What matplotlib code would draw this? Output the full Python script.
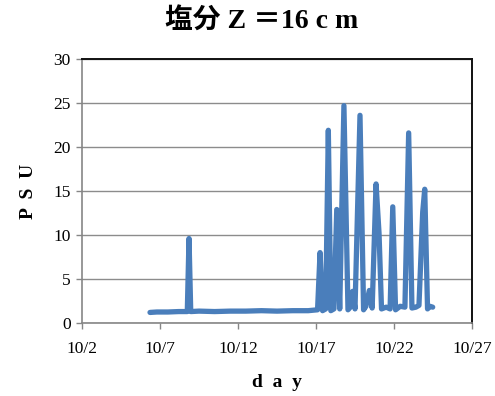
import matplotlib
matplotlib.use("Agg")
import matplotlib.pyplot as plt

# Salinity record at 16 cm depth (day of October, PSU)
day = [6.36, 6.8, 7.5, 8.2, 8.75, 8.86, 8.97, 9.5, 10.5, 11.5, 12.5, 13.5, 14.5,
       15.5, 16.5, 17.1, 17.26, 17.42, 17.62, 17.79, 17.95, 18.15, 18.33, 18.52,
       18.79, 19.05, 19.2, 19.35, 19.5, 19.82, 20.05, 20.2, 20.42, 20.6, 20.85,
       21.04, 21.2, 21.5, 21.75, 21.92, 22.1, 22.4, 22.7, 22.94, 23.15, 23.4,
       23.6, 23.84, 23.97, 24.15, 24.3, 24.48]
psu = [1.2, 1.25, 1.25, 1.3, 1.3, 9.6, 1.3, 1.35, 1.3, 1.35, 1.35, 1.4, 1.35,
       1.4, 1.4, 1.5, 8.0, 1.4, 1.6, 21.9, 1.4, 1.6, 12.9, 1.6,
       24.7, 1.5, 1.8, 3.6, 1.6, 23.6, 1.5, 1.9, 3.7, 1.7, 15.8,
       10.2, 1.6, 1.8, 1.6, 13.2, 1.5, 1.9, 1.8, 21.6, 1.7, 1.8,
       2.0, 12.6, 15.2, 1.6, 1.9, 1.8]

x_ticks = [2, 7, 12, 17, 22, 27]
x_tick_labels = ["10/2", "10/7", "10/12", "10/17", "10/22", "10/27"]
y_ticks = [0, 5, 10, 15, 20, 25, 30]

serif = ["Liberation Serif", "DejaVu Serif"]
plt.rcParams["font.family"] = serif

fig = plt.figure(figsize=(4.95, 3.96), dpi=100)
ax = fig.add_axes([82 / 495, 1 - 323 / 396, 390 / 495, 264 / 396])

ax.plot(day, psu, color="#4a7ebb", lw=3.8, solid_capstyle="round",
        solid_joinstyle="round", zorder=3)

ax.set_xlim(2, 27)
ax.set_ylim(0, 30)
ax.set_xticks(x_ticks)
ax.set_xticklabels(x_tick_labels)
ax.set_yticks(y_ticks)
ax.yaxis.grid(True, color="#8c8c8c", lw=1.0)
ax.set_axisbelow(True)

for side in ("left", "bottom"):
    ax.spines[side].set_color("#868686")
    ax.spines[side].set_linewidth(1.2)
for side in ("top", "right"):
    ax.spines[side].set_color("#111111")
    ax.spines[side].set_linewidth(1.4)

ax.tick_params(axis="both", colors="#868686", labelcolor="black",
               labelsize=12.5, length=4, width=1.0)
ax.tick_params(axis="x", pad=9)
ax.tick_params(axis="y", pad=4)

ax.set_xlabel("d  a  y", fontsize=14, fontweight="bold", labelpad=12)
ax.set_ylabel("P  S  U", fontsize=14, fontweight="bold", labelpad=12)

fig.text(0.528, 1 - 22 / 396, "塩分 Z ＝16 c m", ha="center", va="center",
         fontsize=20, fontweight="bold",
         family=["Liberation Serif", "Noto Sans CJK JP"])

fig.savefig("out.png", dpi=100, facecolor="white")
